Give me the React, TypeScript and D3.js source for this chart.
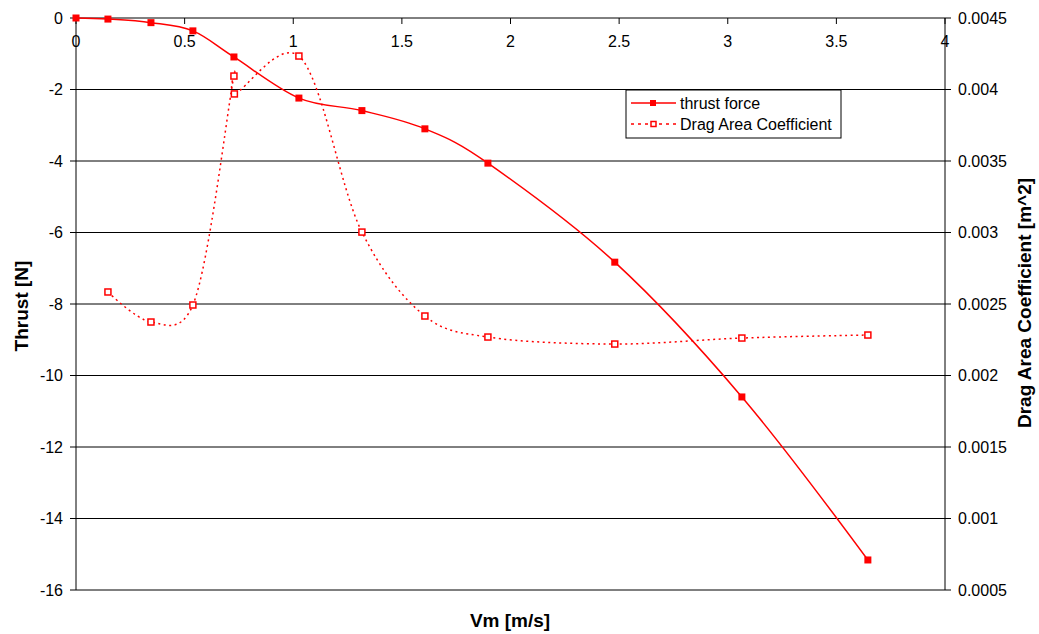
import * as d3 from "d3";

const WIDTH = 1039;
const HEIGHT = 634;
const PLOT = { left: 76, right: 945, top: 18, bottom: 590 };

// speeds of the model [m/s]
const vm = [0, 0.147, 0.345, 0.538, 0.727, 1.026, 1.316, 1.606, 1.896, 2.48, 3.065, 3.645];
const thrust = [0, -0.03, -0.13, -0.36, -1.09, -2.24, -2.59, -3.1, -4.06, -6.83, -10.6, -15.16];

// drag area coefficient (there are two readings near 0.73)
const dragVm = [0.147, 0.345, 0.538, 0.727, 0.729, 1.026, 1.316, 1.606, 1.896, 2.48, 3.065, 3.645];
const dragArea = [0.002584, 0.002374, 0.002493, 0.004094, 0.003969, 0.004234, 0.003003, 0.002416, 0.002269, 0.00222, 0.002262, 0.002283];

const xTicks = [0, 0.5, 1, 1.5, 2, 2.5, 3, 3.5, 4];
const yTicks = [0, -2, -4, -6, -8, -10, -12, -14, -16];
const y2Ticks = [0.0045, 0.004, 0.0035, 0.003, 0.0025, 0.002, 0.0015, 0.001, 0.0005];

const RED = "#ff0000";
const FONT = "'Liberation Sans', Arial, sans-serif";

export default function App() {
  const x = d3.scaleLinear().domain([0, 4]).range([PLOT.left, PLOT.right]);
  const y = d3.scaleLinear().domain([0, -16]).range([PLOT.top, PLOT.bottom]);
  const y2 = d3.scaleLinear().domain([0.0045, 0.0005]).range([PLOT.top, PLOT.bottom]);

  const thrustPts: [number, number][] = vm.map((v, i) => [x(v), y(thrust[i])]);
  const dragPts: [number, number][] = dragVm.map((v, i) => [x(v), y2(dragArea[i])]);

  const line = d3.line().curve(d3.curveCatmullRom.alpha(0));
  const dragLine = d3.line().curve(d3.curveCatmullRom.alpha(0.15));

  const legendX = 626;
  const legendY = 90;

  return (
    <svg
      width={WIDTH}
      height={HEIGHT}
      style={{ position: "absolute", left: 0, top: 0, fontFamily: FONT }}
    >
      <rect width={WIDTH} height={HEIGHT} fill="#fff" />

      {/* horizontal grid */}
      {yTicks.map((t) => (
        <g key={t}>
          <line x1={PLOT.left - 6} x2={PLOT.left} y1={y(t)} y2={y(t)} stroke="#000" />
          <line x1={PLOT.left} x2={PLOT.right} y1={y(t)} y2={y(t)} stroke="#000" />
          <text x={PLOT.left - 13} y={y(t)} dy="0.35em" textAnchor="end" fontSize={16}>
            {t}
          </text>
        </g>
      ))}

      {/* right axis */}
      <line x1={PLOT.right} x2={PLOT.right} y1={PLOT.top} y2={PLOT.bottom} stroke="#000" />
      {y2Ticks.map((t) => (
        <g key={t}>
          <line x1={PLOT.right} x2={PLOT.right + 6} y1={y2(t)} y2={y2(t)} stroke="#000" />
          <text x={PLOT.right + 13} y={y2(t)} dy="0.35em" textAnchor="start" fontSize={16}>
            {t}
          </text>
        </g>
      ))}

      {/* left axis */}
      <line x1={PLOT.left} x2={PLOT.left} y1={PLOT.top} y2={PLOT.bottom} stroke="#000" />

      {/* x axis on the zero line */}
      {xTicks.map((t) => (
        <g key={t}>
          <line x1={x(t)} x2={x(t)} y1={y(0)} y2={y(0) + 6} stroke="#000" />
          <text x={x(t)} y={y(0) + 29} textAnchor="middle" fontSize={16}>
            {t}
          </text>
        </g>
      ))}

      {/* drag area coefficient */}
      <path
        d={dragLine(dragPts) || ""}
        fill="none"
        stroke={RED}
        strokeWidth={1.5}
        strokeDasharray="2,3.5"
      />
      {dragPts.map(([px, py], i) => (
        <rect key={i} x={px - 3} y={py - 3} width={6} height={6} fill="#fff" stroke={RED} strokeWidth={1.5} />
      ))}

      {/* thrust */}
      <path d={line(thrustPts) || ""} fill="none" stroke={RED} strokeWidth={1.5} />
      {thrustPts.map(([px, py], i) => (
        <rect key={i} x={px - 3.5} y={py - 3.5} width={7} height={7} fill={RED} />
      ))}

      {/* legend */}
      <rect x={legendX} y={legendY} width={215} height={48} fill="#fff" stroke="#000" />
      <line x1={legendX + 5} x2={legendX + 50} y1={legendY + 13} y2={legendY + 13} stroke={RED} strokeWidth={1.5} />
      <rect x={legendX + 24} y={legendY + 10} width={6} height={6} fill={RED} />
      <text x={legendX + 54} y={legendY + 13} dy="0.35em" fontSize={16}>
        thrust force
      </text>
      <line
        x1={legendX + 5}
        x2={legendX + 50}
        y1={legendY + 34}
        y2={legendY + 34}
        stroke={RED}
        strokeWidth={1.5}
        strokeDasharray="3,4"
      />
      <rect x={legendX + 25} y={legendY + 31.5} width={5} height={5} fill="#fff" stroke={RED} strokeWidth={1.5} />
      <text x={legendX + 54} y={legendY + 34} dy="0.35em" fontSize={16}>
        Drag Area Coefficient
      </text>

      {/* axis titles */}
      <text x={510} y={627} textAnchor="middle" fontSize={19} fontWeight="bold">
        Vm [m/s]
      </text>
      <text
        transform={`translate(28,306) rotate(-90)`}
        textAnchor="middle"
        fontSize={19}
        fontWeight="bold"
      >
        Thrust [N]
      </text>
      <text
        transform={`translate(1031,303) rotate(-90)`}
        textAnchor="middle"
        fontSize={19}
        fontWeight="bold"
      >
        Drag Area Coefficient [m^2]
      </text>
    </svg>
  );
}
